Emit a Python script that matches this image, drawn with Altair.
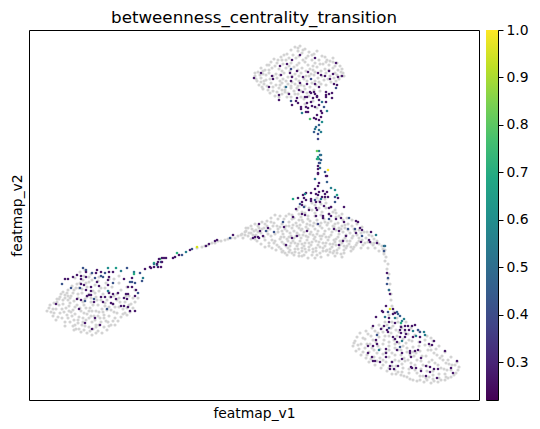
import altair as alt
import pandas as pd

# Positions are read off the picture; the axes carry no numbers, so the units are arbitrary.
gray_top = [(296,47),(301,46),(306,49),(292,50),(299,51),(310,52),(303,53),(288,54),(294,55),(315,54),(309,56),(318,51),(326,57),
(275,59),(282,57),(287,60),(297,58),(304,60),(313,60),(320,60),(328,60),(334,58),(338,63),(272,62),(268,65),(278,63),(284,64),(292,63),(300,63),(309,65),(316,63),(324,64),(330,65),(341,66),(344,73),
(262,68),(266,70),(273,68),(280,69),(287,68),(295,67),(303,68),(311,69),(318,67),(326,69),(334,68),(339,70),
(259,72),(256,76),(264,74),(270,73),(277,74),(285,73),(296,74),(302,73),(312,74),(316,72),(327,73),(336,73),(342,72),(340,79),
(258,81),(262,78),(267,80),(278,78),(284,79),(289,77),(297,79),(305,79),(310,76),(319,78),(325,80),(335,78),(332,82),
(260,85),(265,84),(272,83),(277,85),(283,83),(289,84),(296,84),(302,85),(313,83),(320,82),(327,85),
(264,89),(269,90),(274,91),(280,88),(286,90),(292,88),(298,88),(306,89),(311,87),(321,91),
(276,96),(283,94),(288,97),(296,94),(302,97),(310,96),(286,92),(306,104),(314,101),(318,108)]
gray_top_fill = [(299,48),(304,50),(313,55),(285,55),(290,58),(300,56),(307,58),(323,56),(331,61),(279,60),(270,65),(276,66),(283,60),(290,66),(298,65),(306,62),(314,66),(321,64),(327,62),(336,66),(343,69),(264,71),(270,70),(283,71),(291,71),(299,70),(307,71),(314,70),(322,71),(330,70),(338,75),(261,75),(267,75),(274,76),(281,75),(293,76),(300,76),(307,76),(315,75),(323,76),(331,76),(345,76),(257,79),(265,81),(271,79),(281,81),(287,81),(293,82),(300,81),(308,81),(316,81),(322,84),(329,79),(337,81),(263,87),(268,86),(274,87),(281,85),(286,87),(292,86),(299,86),(305,86),(317,85),(271,93),(278,92),(283,90),(289,93),(295,91),(302,91),(308,93),(315,90),(280,97),(292,97),(299,94),(305,99),(262,82),(256,73),(342,76),(334,62)]

gray_mid = [(242,235),(244,238),(249,228),(252,226),(256,224),(260,228),(255,231),(263,222),(268,221),(272,218),(276,215),(281,216),(285,219),(290,214),(298,210),(303,212),(310,208),(316,205),(322,204),(318,198),(326,199),(332,207),(336,210),(343,214),(348,218),(353,220),(358,224),(363,227),(368,232),(373,236),(378,241),(383,246),(386,250),
(295,218),(302,217),(309,216),(316,213),(323,212),(330,214),(337,217),(344,220),
(275,223),(283,224),(290,222),(297,223),(304,222),(311,221),(318,220),(325,219),(332,221),(339,223),(346,225),(353,226),
(265,228),(271,229),(279,229),(286,229),(293,228),(300,228),(307,227),(314,226),(321,226),(328,225),(335,227),(342,229),(349,230),(356,231),(362,233),
(257,235),(262,233),(269,234),(276,234),(284,234),(291,233),(298,233),(305,232),(312,232),(319,231),(326,231),(333,232),(340,234),(347,235),(354,236),(360,238),(367,238),
(252,239),(266,240),(273,240),(281,239),(288,239),(295,238),(302,238),(309,237),(316,237),(323,236),(330,237),(337,239),(344,240),(351,241),(358,243),(372,243),
(258,241),(270,246),(278,245),(285,244),(292,243),(299,244),(306,243),(313,242),(320,242),(327,243),(334,244),(341,245),(348,246),(355,247),(364,245),(376,248),
(282,249),(289,248),(296,249),(303,248),(310,247),(317,248),(324,248),(331,249),(338,250),(345,250),(352,251),(369,248),(380,251),
(286,253),(293,253),(300,253),(307,252),(314,252),(321,253),(327,251),(334,253),(342,254),(300,256),(313,255)]
gray_mid_fill = [(300,214),(306,213),(313,210),(320,208),(327,208),(334,212),(340,216),(293,215),(287,216),(279,219),(272,222),(266,224),(259,226),(253,229),(247,231),(246,235),(250,233),(257,230),(263,229),(268,231),(274,226),(281,227),(287,226),(294,225),(301,225),(308,224),(315,223),(322,223),(329,223),(336,224),(343,226),(349,224),(355,229),(360,230),(365,232),(370,235),(375,239),(380,244),(384,249),(254,235),(259,232),(265,237),(272,236),(279,232),(283,231),(288,231),(295,231),(302,230),(309,229),(316,229),(323,228),(330,229),(337,230),(344,232),(351,233),(358,235),(363,240),(369,242),(374,245),(270,243),(276,241),(283,242),(290,237),(297,236),(304,235),(311,234),(318,234),(325,234),(332,235),(339,237),(346,238),(353,238),(360,241),(366,243),(280,247),(287,246),(294,241),(301,241),(308,240),(315,239),(322,239),(329,240),(336,242),(343,243),(350,244),(357,245),(362,248),(284,251),(291,250),(298,246),(305,246),(312,245),(319,245),(326,246),(333,247),(340,248),(347,248),(354,249),(296,252),(303,251),(310,250),(317,251),(324,251),(331,252),(338,253),(345,253),(305,255),(318,255),(290,252),(375,243),(385,254),(293,219),(327,203),(320,201),(313,203),(306,206),(300,207),(337,213)]
gray_mid_extra = [(249,236),(247,228),(252,233),(256,239),(262,244),(266,247),(273,248),(277,250),(283,252),(288,255),(295,255),(303,256),(309,258),(316,258),(322,257),(329,255),(336,256),(343,257),(303,220),(309,219),(316,216),(322,215),(300,220),(278,226),(290,226),(298,226),(303,229),(311,225),(318,224),(326,222),(334,226),(340,228),(346,228),(268,226),(285,237),(292,236),(300,235),(307,236),(314,235),(321,236),(327,237),(335,240),(341,241),(348,241),(275,243),(282,237),(289,241),(296,243),(303,244),(310,243),(317,241),(324,243),(331,244),(337,245),(345,246),(352,247),(291,246),(299,249),(306,249),(314,249),(321,247),(328,250),(335,251)]

gray_strands = [(385,252),(387,257),(386,261),(389,264),(388,269),(390,274),(389,279),(391,284),(390,290),(392,294),(392,300),(393,306),
(198,248),(203,247),(206,246),(209,245),(213,243),(216,243),(219,241),(222,241),(226,240),(229,239),(232,238),(236,238),(239,236),(243,234),(246,232)]

gray_left = [(52,312),(50,308),(54,316),(57,320),(55,303),(58,299),(62,294),(57,309),(61,313),(60,305),(64,300),(66,295),(69,290),(63,318),(66,322),(68,315),(67,308),(71,303),(72,296),(75,290),(78,284),(73,286),(71,322),(74,326),(73,316),(74,310),(78,305),(79,298),(83,293),(77,329),(82,332),(79,323),(80,317),(82,311),(85,305),(86,299),(90,294),(88,333),(93,335),(86,326),(87,320),(88,314),(91,308),(92,302),(97,297),(94,329),(99,331),(93,322),(95,316),(97,311),(99,305),(102,300),(100,325),(103,333),(105,327),(101,318),(104,312),(106,306),(108,300),(107,321),(110,316),(112,310),(114,304),(112,325),(116,318),(118,313),(120,307),(118,300),(122,317),(126,313),(128,308),(131,312),(134,308),(132,304),(126,302),(136,302),(84,280),(90,282),(96,285),(102,288),(110,292),(118,294),(80,288),(88,287),(94,291),(104,294),(70,311),(76,314),(84,318),(90,327),(96,320),(105,318),(60,299),(65,312),(75,320),(85,313),(92,316),(100,312),(108,310),(115,312),(83,325),(97,325),(109,322),(120,298),(130,296),(76,278),(81,272),(86,270),(92,274),(100,277),(110,279),(120,283),(128,287),(136,290)]
gray_left_fill = [(48,311),(51,305),(54,309),(55,313),(59,317),(58,302),(61,297),(64,304),(63,309),(66,298),(69,300),(68,293),(70,306),(71,298),(74,293),(77,288),(81,283),(85,276),(90,277),(69,318),(66,326),(72,312),(76,307),(75,301),(79,294),(83,289),(87,283),(93,280),(99,281),(76,325),(79,320),(81,308),(84,302),(88,297),(92,298),(75,330),(80,329),(85,330),(91,331),(97,333),(84,322),(90,318),(90,311),(94,305),(98,300),(100,291),(106,288),(113,287),(97,327),(102,322),(99,316),(103,309),(106,303),(111,297),(115,296),(122,290),(108,330),(110,326),(105,315),(110,307),(116,307),(121,302),(127,296),(114,321),(119,321),(124,309),(130,305),(134,298),(139,298),(124,314),(128,315),(116,325),(69,296),(64,292),(87,308),(93,311),(96,293),(107,283),(115,279),(120,276)]

gray_right = [(356,341),(358,337),(354,346),(357,351),(362,355),(367,358),(362,344),(366,348),(370,352),(375,357),(370,362),(376,365),(382,368),(388,371),(361,333),(367,331),(373,328),(366,339),(372,336),(379,333),(371,344),(377,342),(375,350),(381,349),(381,358),(387,362),(393,366),(399,372),(405,376),(411,379),(418,381),(425,382),(432,383),(439,382),(446,380),(452,377),(457,373),(460,367),(458,362),(452,357),(446,352),(440,346),(434,341),(428,336),
(393,374),(385,340),(390,336),(384,332),(380,325),(386,322),(392,328),(396,344),(390,346),(387,352),(393,353),(399,350),(404,346),(410,340),(416,335),(420,331),(402,355),(408,352),(414,347),(420,342),(426,345),(432,350),(438,355),(444,360),(450,364),(396,360),(403,364),(409,360),(415,356),(421,351),(427,356),(433,360),(439,365),(445,369),(410,369),(416,365),(422,361),(428,366),(434,371),(440,374),(418,373),(424,376),(430,377),(403,372),(397,366),(452,370),(446,374),(398,318),(402,326),(406,332),(398,336),(404,339),(390,315),(395,312),(412,328)]
gray_right_fill = [(355,343),(359,345),(360,349),(364,352),(368,355),(372,359),(378,361),(384,365),(390,368),(396,370),(402,375),(408,377),(414,380),(421,380),(428,380),(435,381),(442,380),(449,378),(455,375),(459,370),(456,365),(449,360),(443,356),(437,349),(431,346),(364,338),(369,334),(376,331),(383,328),(388,325),(393,322),(368,344),(374,340),(380,337),(386,336),(392,333),(397,330),(403,328),(409,334),(373,348),(379,346),(384,344),(390,342),(395,340),(400,343),(407,343),(413,341),(378,353),(384,354),(390,350),(396,348),(402,350),(408,348),(414,352),(420,346),(426,340),(432,338),(384,360),(390,357),(396,355),(405,358),(411,355),(417,353),(423,356),(429,350),(435,353),(441,358),(447,363),(393,362),(400,361),(406,361),(412,363),(418,360),(424,365),(430,362),(436,363),(442,368),(448,370),(453,365),(404,368),(410,373),(416,370),(422,369),(428,371),(434,375),(440,378),(447,377),(421,376),(427,378),(434,379),(397,374),(400,332),(394,326),(399,322),(407,322)]

# (x, y) has the dark value; (x, y, v) has its own value.
dark_value = 0.27
scored_top = [(255,78),(262,73),(273,76),(274,79),(270,87),(281,66),(293,60),(301,55),(316,58),(337,63),(288,64),(292,69,.4),(298,71),(282,75),(291,73),(293,77),(292,81),(287,87,.5),(309,72),(319,73),(322,75),(326,76),(330,71),(334,74),(339,77),(343,76),(331,79),(312,79,.4),(301,83),(304,77),(308,84),(316,84),(320,87),(335,84),(338,85),(337,88,.4),(300,90),(304,92),(311,92),(315,92),(318,96),(327,95),(333,93),(280,95),(280,100),(290,94),(292,101,.42),(293,105),
(298,98),(299,103),(302,107),(297,101),(306,97),(308,97),(312,93),(314,98),(308,103),(312,102),(313,106),(302,109),(307,107),(309,108),(303,113,.55),(307,112),(309,112),(311,119,.78),(316,94),(318,97),(320,100),(323,102,.5),(327,97),(327,92),(330,94),(333,98),(327,102),(325,107,.42),(328,111,.55),(320,105),(316,107),(322,111),(323,113),(318,115),(315,118),(317,119),(320,120),(323,122,.6),(322,117),(320,125,.45),(316,129,.52),(315,132,.45),(320,130,.5),(322,132,.55),(319,134,.4),(317,127,.5),(319,139,.38),(320,151,.55),(318,151,.82),(321,155,.5),(320,159,.45),(319,159,.72),(321,163,.5)]

scored_mid = [(322,155,.5),(319,157,.65),(318,159,.7),(322,160,.45),(320,163,.4),(319,166),(321,168,.5),(319,169),(319,173),(319,174),(326,172,.42),(329,170,1.0),(327,176),(328,176),(316,179,.52),(328,182,.45),(320,183),(319,186),(332,188,.55),(336,190,.6),(316,189),(320,192),(324,191),(328,192),(338,195,.65),(307,193),(306,194,.6),(304,195),(312,193),(317,194),(319,195),(326,194),(323,197),(326,197),(329,197),(336,197,.42),(339,198),(294,199,.68),(299,198),(305,198),(307,200),(312,199),(316,200,.42),(322,199,.52),(303,202),(301,204,.42),(303,205),(305,207,.42),(312,201),(317,202),(321,202),(336,202,.42),(297,209),(310,210),(317,208),(318,210),(325,206),(332,207),(330,208),(345,207),(303,214),(306,215),(294,217),(317,216),(324,216),(330,214),(332,216),(324,218),(330,219,.42),(337,219),(342,218),(350,218,.42),(345,222),(357,221),(359,222),(284,222,.42),(285,227),(260,224),(269,228),(319,224,.38),(261,231),(267,231,.42),(275,232,.42),(264,236),(254,238),(256,237),(259,237),(260,238),(298,236),(308,231),(293,238),(335,229),(340,231),(349,229,.42),(356,229,.42),(361,228),(363,230),(357,233),(372,232),(347,236),(377,235,.55),(363,236,.42),(370,240),(371,242),(344,241),(362,242),(378,243),(287,245),(340,245),(385,246,.5),(386,246,.5),(385,251,.42)]

scored_right = [(388,273),(389,278,.42),(388,284,.42),(390,290,.5),(391,294),(387,306),(391,309,.95),(383,311),(394,309),(384,312),(398,312,.45),(399,314,.45),(394,314),(396,313),(389,312,.42),(377,317),(386,317,.52),(390,318),(396,318,.55),(401,316,.45),(405,319,.55),(403,321,.55),(390,322),(396,323),(402,323,.7),(374,326),(385,326),(390,328,.42),(382,329),(388,330),(389,332),(406,326),(402,327),(409,326),(413,326),(416,325),(410,330),(414,331,.55),(419,330,.42),(421,332,.42),(425,332,.55),(401,330),(406,330),(402,333),(407,334),(378,335,.42),(401,337),(406,337),(414,337),(417,336,.55),(421,337),(426,335,.55),(394,337),(396,339),(377,340),(403,341,.55),(421,342),(435,341),(398,342),(369,346),(374,346),(378,344),(430,344),(433,345),(401,347,.42),(387,349),(380,350,.55),(398,350),(411,351),(416,351),(419,350),(411,353),(446,351),(369,353),(373,357),(387,353),(387,357),(403,353),(412,357),(422,358),(403,359),(374,361),(376,361),(381,362),(393,362),(391,366),(391,369),(399,366),(395,369),(412,367),(413,368),(417,368),(427,366),(431,367),(422,371),(435,369),(439,369),(431,372),(427,376),(438,378),(452,368),(454,373),(458,361)]

scored_left = [(84,268,.42),(87,270,.42),(87,272),(93,273,.42),(98,270),(97,273),(109,268,.6),(102,272),(106,273,.42),(110,272),(114,272),(117,268,.65),(122,271,.55),(128,268,.42),(135,272,.55),(135,274,.7),(141,273,.42),(146,269),(151,267),(155,263,.7),(155,267),(159,267),(161,259,.75),(158,265,.55),(162,262,.42),(163,258),(167,258),(159,262),
(66,279),(69,279),(74,277),(78,275),(82,276),(82,279),(63,284,.42),(72,288,.42),(81,288,.42),(82,284),(87,277),(96,278,.42),(102,276,.42),(104,277,.42),(98,282),(100,286),(92,287),(87,290),(92,291),(110,277),(109,280),(109,285),(114,283,.42),(125,279),(133,278),(131,282,.42),(133,282,.42),(136,283,.42),(144,278,.55),(143,281,.42),(129,287),(133,287),(139,293,.42),(137,290),(88,296),(92,295),(78,299),(82,300),(57,304),(86,301,.42),(95,299,.42),(95,302),(102,297),(104,302),(106,297),(110,293),(109,291,.55),(114,294),(119,293),(117,299),(127,294),(129,294),(125,298),(128,299),(136,296),(112,303),(114,304),(122,306),(125,306),(129,307),(80,309),(108,309,.42),(131,311),(136,311),(96,318),(86,323),(101,325),(93,329),(112,297),(85,285),(90,295)]

scored_link = [(174,258),(176,257),(180,255),(178,253,.72),(183,255,.42),(187,252,.55),(191,250),(193,249,.42),(198,247,.95),(207,246),(210,244),(216,241),(218,240),(231,238,.42),(234,235),(155,264,.55),(160,259),(165,258),(158,264),(162,267),(152,268),(163,262)]

viridis_stops = ["#440154","#482475","#414487","#355f8d","#2a788e","#21918c","#22a884","#44bf70","#7ad151","#bddf26","#fde725"]
colorbar_ticks = [0.3,0.4,0.5,0.6,0.7,0.8,0.9,1.0]
vmin, vmax = 0.22, 1.0

gray_rows = [{"x":p[0],"y":p[1]} for g in (gray_top,gray_top_fill,gray_mid,gray_mid_fill,gray_mid_extra,gray_strands,gray_left,gray_left_fill,gray_right,gray_right_fill) for p in g]
scored_rows = [{"x":p[0],"y":p[1],"v":p[2] if len(p)>2 else dark_value}
               for g in (scored_top,scored_mid,scored_right,scored_left,scored_link) for p in g]

FONT = "DejaVu Sans"
xs = alt.Scale(domain=[30,480], nice=False, zero=False)
ys = alt.Scale(domain=[400,30], nice=False, zero=False)
xa = alt.Axis(labels=False, ticks=False, domain=False, grid=False, title="featmap_v1", titleFontWeight="normal",
              titleFont=FONT, titleFontSize=13.9, titleColor="black", titlePadding=6)
ya = alt.Axis(labels=False, ticks=False, domain=False, grid=False, title="featmap_v2", titleFontWeight="normal",
              titleFont=FONT, titleFontSize=13.9, titleColor="black", titlePadding=5)

gray = alt.Chart(pd.DataFrame(gray_rows)).mark_circle(size=10, color="#d3d3d3", opacity=1).encode(
    x=alt.X("x:Q", scale=xs, axis=xa), y=alt.Y("y:Q", scale=ys, axis=ya))
scored = alt.Chart(pd.DataFrame(scored_rows)).mark_circle(size=7, opacity=1).encode(
    x=alt.X("x:Q", scale=xs, axis=xa), y=alt.Y("y:Q", scale=ys, axis=ya),
    color=alt.Color("v:Q", scale=alt.Scale(scheme="viridis", domain=[vmin,vmax]), legend=None))
main = (gray + scored).properties(width=450, height=370,
    title=alt.TitleParams("betweenness_centrality_transition", font=FONT, fontSize=16.7, fontWeight="normal", color="black", offset=3))

grad = alt.Gradient(gradient="linear", x1=0, x2=0, y1=1, y2=0,
    stops=[alt.GradientStop(offset=i/10, color=c) for i, c in enumerate(viridis_stops)])
bar = alt.Chart().mark_rect(fill=grad).encode(
    x=alt.value(0), x2=alt.value(12),
    y=alt.Y(datum=vmin, type="quantitative", scale=alt.Scale(domain=[vmin,vmax], nice=False, zero=False),
            axis=alt.Axis(orient="right", values=colorbar_ticks, format=".1f", title=None, grid=False, domain=False,
                          tickColor="black", tickSize=5, labelColor="black", labelFont=FONT, labelFontSize=13.9, labelPadding=3)),
    y2=alt.datum(vmax)).properties(width=12, height=370)

chart = alt.hconcat(main, bar, spacing=5).properties(padding={"left":1,"top":1,"right":0,"bottom":0}).configure_view(stroke="black", strokeWidth=1)
chart.save("out.html", embed_options={"renderer": "svg", "actions": False})
